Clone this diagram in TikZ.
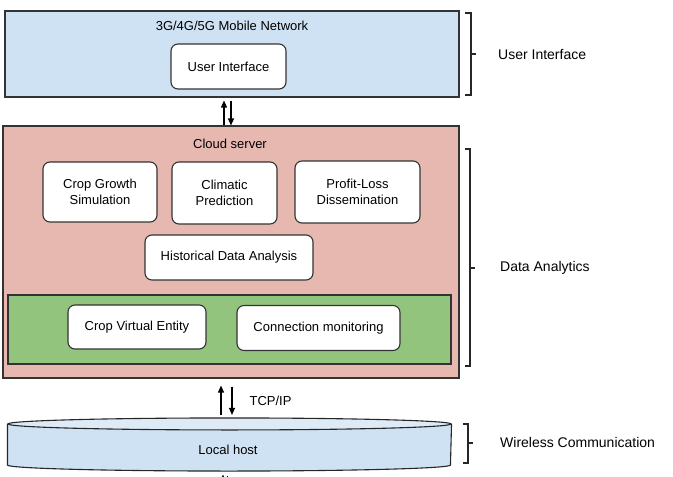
\documentclass[tikz,border=0pt]{standalone}
\usepackage{fontspec}
\setmainfont{Liberation Sans}
\usetikzlibrary{arrows.meta}
\definecolor{netblue}{HTML}{CFE2F3}
\definecolor{toplight}{HTML}{DEEAF6}
\definecolor{cloudpink}{HTML}{E6B8AF}
\definecolor{entgreen}{HTML}{93C47D}
\tikzstyle{layer}=[shape=rectangle,
                   draw=black!80,
                   line width=1.1pt,
                   inner sep=0pt]
\tikzstyle{mod}=[shape=rectangle,
                 rounded corners=7pt,
                 draw=black!80,
                 line width=1.1pt,
                 fill=white,
                 inner sep=0pt,
                 align=center,
                 font=\fontsize{13}{16.5}\selectfont]
\tikzstyle{ttl}=[inner sep=0pt,
                 font=\fontsize{13}{16.5}\selectfont]
\tikzstyle{tier}=[anchor=west,
                  inner sep=0pt,
                  font=\fontsize{14}{17}\selectfont]
\tikzstyle{brk}=[draw=black!85, line width=1.1pt]

\begin{document}
\begin{tikzpicture}[>={Triangle[length=7pt,width=6pt]},x=1pt,y=-1pt]
\useasboundingbox (0,0) rectangle (673,477);

% mobile network layer
\node[layer, fill=netblue, minimum width=454, minimum height=86] (net) at (232,54) {};
\node[ttl] (nettitle) at (232,26) {3G/4G/5G Mobile Network};
\node[mod, minimum width=115, minimum height=45] (ui) at (228.5,66.5) {User Interface};

% cloud server layer
\node[layer, fill=cloudpink, minimum width=456, minimum height=252] (cloud) at (231,252) {};
\node[ttl] (cloudtitle) at (230,144) {Cloud server};
\node[mod, minimum width=114, minimum height=60] (cgs)  at (100,192)   {Crop Growth\\Simulation};
\node[mod, minimum width=105, minimum height=62] (clim) at (224.5,193) {Climatic\\Prediction};
\node[mod, minimum width=125, minimum height=62] (plo)  at (357.5,192) {Profit-Loss\\Dissemination};
\node[mod, minimum width=168, minimum height=45] (hist) at (229,257.5) {Historical Data Analysis};

% virtual entity layer
\node[layer, fill=entgreen, minimum width=443, minimum height=69] (ent) at (229.5,329.5) {};
\node[mod, minimum width=138, minimum height=44] (cve)  at (137,327)   {Crop Virtual Entity};
\node[mod, minimum width=163, minimum height=45] (conn) at (318.5,328) {Connection monitoring};

% local host
\node[layer, draw=none, fill=netblue, minimum width=443, minimum height=40] (host) at (229.5,444.5) {};
\draw[brk, fill=netblue] (host.north west) -- (host.south west)
    arc[start angle=180, end angle=360, x radius=221.5pt, y radius=6pt] -- (host.north east);
\draw[brk, fill=toplight] (host.north) ellipse [x radius=221.5pt, y radius=6pt];
\node[ttl] (hostlbl) at (228,450) {Local host};
\coordinate (gw) at (229.5,500);

% links
\draw[line width=1.2pt, ->] ([xshift=-8pt]cloud.north -| net.south) -- ([xshift=-8pt,yshift=-3pt]net.south);
\draw[line width=1.2pt, ->] ([xshift=-1pt,yshift=-3pt]net.south) -- ([xshift=-1pt]cloud.north -| net.south);
\draw[line width=1.2pt, ->] ([xshift=-8.5pt,yshift=9pt]host.north) -- ([xshift=-8.5pt,yshift=-7pt]cloud.south -| host.north);
\draw[line width=1.2pt, ->] ([xshift=2.5pt,yshift=-8pt]cloud.south -| host.north)
    -- node[ttl, anchor=west, xshift=17pt] (tcp) {TCP/IP} ([xshift=2.5pt,yshift=9pt]host.north);
\draw[line width=1.2pt, ->] ([xshift=-6.5pt]gw) -- ([xshift=-6.5pt,yshift=-9.5pt]host.south);
\draw[line width=1.2pt, ->] ([xshift=-2pt,yshift=-10.5pt]host.south) -- ([xshift=-2pt]gw);

% tiers
\draw[brk] (465,13) -- (471,13) -- (471,95) -- (465,95) (471,54) -- (476,54);
\draw[brk] (465,149) -- (470,149) -- (470,366) -- (465,366) (470,268) -- (475,268);
\draw[brk] (463,424) -- (468,424) -- (468,463) -- (463,463) (468,443) -- (473,443);
\node[tier] (tui) at (498,55)  {User Interface};
\node[tier] (tda) at (500,268) {Data Analytics};
\node[tier] (twc) at (500,442) {Wireless Communication};

\end{tikzpicture}
\end{document}
